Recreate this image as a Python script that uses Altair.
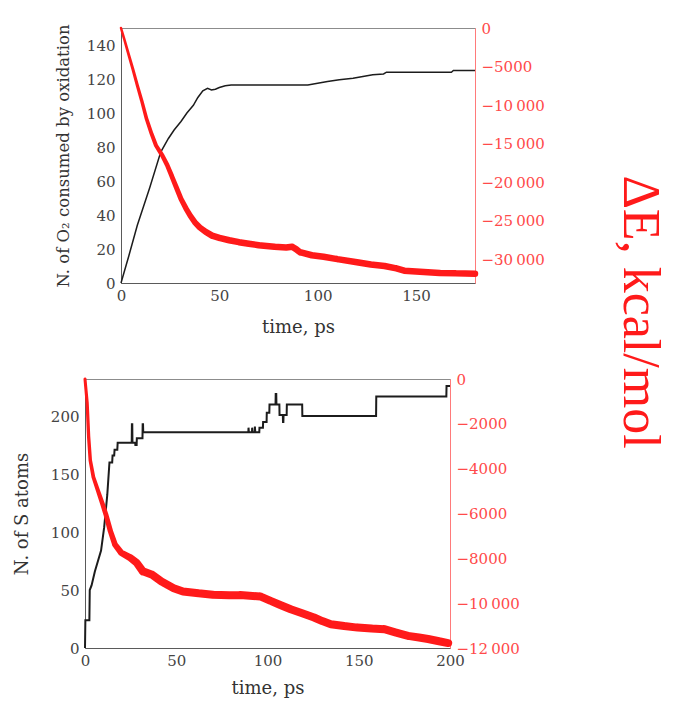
import altair as alt
import pandas as pd

# ---------------- data: top panel (O2 oxidation) ----------------
top_n_t = [0, 4, 8.3, 14.6, 20.2, 24.1, 27, 30.5, 33.5, 36.8, 39, 41.6, 44, 46, 48, 50, 53, 56, 70, 95,
           100, 105, 111, 118, 123, 128, 133.5, 135, 168, 169, 180]
top_n = [0, 16, 34, 56, 77, 85, 90, 95, 100, 104.5, 109, 113, 114.5, 113.5, 114, 115, 116, 116.5, 116.5, 116.5,
         117.5, 118.5, 119.5, 120.5, 121.5, 122.5, 123, 124, 124, 125, 125]

top_e_t = [0, 1.5, 3.5, 6, 8.3, 10.5, 13, 15.5, 17.8, 21, 23.5, 25.7, 28, 30.5, 33, 35.2, 37.5, 40, 43, 46.3,
           50, 55, 60, 65, 70, 78, 84, 87, 89, 91, 97, 103, 110, 120, 127, 134, 140, 144, 150, 156,
           162, 170, 180]
top_e = [0, -1300, -3100, -5300, -7450, -9400, -11800, -13700, -15250, -16550, -17800, -19150, -20600, -22180,
         -23400, -24350, -25200, -25870, -26450, -26950, -27250, -27550, -27800, -28000, -28200, -28400, -28500,
         -28400, -28700, -29100, -29500, -29700, -30000, -30400, -30700, -30900, -31200, -31500, -31600, -31700,
         -31800, -31850, -31900]

# ---------------- data: bottom panel (S atoms) ----------------
bot_n_t = [0, 0.2, 2.4, 2.6, 3.6, 5.4, 7.1, 8.8, 10.5, 12.2, 13.4, 14.9, 15.1, 16.0, 16.2, 17.7, 17.9, 25.6,
           25.7, 25.9, 26.0, 27.5, 27.6, 28.3, 28.4, 31.5, 31.6, 31.8, 31.9, 89.5, 89.6, 89.8, 91.5, 91.6, 91.8,
           93.0, 93.1, 93.3, 95.5, 95.6, 97.5, 97.6, 99.5, 99.6, 101.0, 101.1, 104.4, 104.5, 104.8, 104.9,
           106.5, 106.6, 108.4, 108.5, 108.7, 108.8, 110.5, 110.6, 119.0, 119.1, 159.5, 159.6, 198.0, 198.1, 200.0]
bot_n = [0, 24, 24, 50, 54, 66, 75, 84, 104, 132, 160, 160, 166, 166, 171, 171, 177, 177, 193, 193,
         177, 177, 175, 175, 181, 181, 193, 193, 186, 186, 190, 186, 186, 190, 186, 186, 191, 186, 186, 190,
         190, 195, 195, 203, 203, 210, 210, 219, 219, 210, 210, 201, 201, 195, 195, 201, 201, 210, 210, 200,
         200, 217, 217, 226, 226]

bot_e_t = [0, 0.5, 1.2, 2.0, 2.9, 4.6, 7.1, 9.6, 11.4, 13.9, 16.4, 19.8, 24.9, 28.3, 31.7, 36.8, 41.9, 48.6,
           53.7, 62.2, 70, 79, 85, 96, 101.7, 107, 112.7, 119, 125.5, 130, 134.7, 142, 149.4, 157, 164, 170,
           177, 183, 188, 194, 199]
bot_e = [0, -450, -1080, -2580, -3630, -4380, -4980, -5580, -6030, -6780, -7380, -7750, -7980, -8200, -8580,
         -8730, -9030, -9330, -9480, -9560, -9620, -9650, -9640, -9700, -9900, -10080, -10270, -10450, -10640,
         -10800, -10940, -11020, -11090, -11130, -11160, -11300, -11460, -11530, -11600, -11700, -11780]

# ---------------- ticks / labels ----------------
top_x_ticks = [0, 50, 100, 150]
top_left_ticks = [0, 20, 40, 60, 80, 100, 120, 140]
top_right_ticks = [0, -5000, -10000, -15000, -20000, -25000, -30000]
bot_x_ticks = [0, 50, 100, 150, 200]
bot_left_ticks = [0, 50, 100, 150, 200]
bot_right_ticks = [0, -2000, -4000, -6000, -8000, -10000, -12000]

top_left_title = "N. of O\u2082 consumed by oxidation"
bot_left_title = "N. of S atoms"
x_title = "time, ps"
side_title = "\u0394E, kcal/mol"

FONT = "DejaVu Serif"
BLACK = "#1c1c1c"
RED = "#ff1a1a"
AXIS_GREY = "#5a5a5a"
LABEL_GREY = "#444444"
RED_LABEL = "#ff4a4a"
RED_AXIS = "#ff7a7a"

energy_label = ("abs(datum.value) >= 10000 ? replace(format(datum.value, ','), ',', '\u2009') "
                ": format(datum.value, 'd')")


def panel(n_t, n_v, e_t, e_v, x_dom, x_ticks, n_dom, n_ticks, n_title, e_dom, e_ticks,
          w_expr, width, height, left_title_size, left_title_pad, black_width, x_title_pad):
    black_df = pd.DataFrame({"t": n_t, "n": n_v})
    black_df["i"] = range(len(black_df))
    red_df = pd.DataFrame({"t": e_t, "e": e_v})

    x_enc = alt.X(
        "t:Q",
        scale=alt.Scale(domain=x_dom, nice=False, zero=False),
        axis=alt.Axis(values=x_ticks, title=x_title, labelFlush=False, labelFontSize=15,
                      titleFontSize=18, labelPadding=5, titlePadding=x_title_pad, domainColor=AXIS_GREY,
                      labelColor=LABEL_GREY, titleColor="#333333"),
    )
    black = alt.Chart(black_df).mark_line(color=BLACK, strokeWidth=black_width).encode(
        x=x_enc,
        y=alt.Y("n:Q", scale=alt.Scale(domain=n_dom, nice=False, zero=False),
                axis=alt.Axis(orient="left", values=n_ticks, title=n_title, labelFlush=False,
                              labelFontSize=15, titleFontSize=left_title_size,
                              labelPadding=6, titlePadding=left_title_pad, domainColor=AXIS_GREY,
                              labelColor=LABEL_GREY, titleColor="#333333")),
        order="i:Q",
    )
    red = alt.Chart(red_df).transform_calculate(w=w_expr).mark_trail(color=RED).encode(
        x=x_enc,
        y=alt.Y("e:Q", scale=alt.Scale(domain=e_dom, nice=False, zero=False),
                axis=alt.Axis(orient="right", values=e_ticks, title=None, labelFlush=False,
                              labelExpr=energy_label, labelFontSize=15, labelPadding=6,
                              domainColor=RED_AXIS, labelColor=RED_LABEL)),
        size=alt.Size("w:Q", scale=None, legend=None),
    )
    return alt.layer(black, red).resolve_scale(y="independent").properties(
        width=width, height=height, view=alt.ViewBackground(stroke="#8c8c8c", strokeWidth=1)
    )


def blank(w):
    return alt.Chart(pd.DataFrame({"v": [0]})).mark_point(opacity=0).encode(
        x=alt.value(0), y=alt.value(0)
    ).properties(width=w, height=10, view=alt.ViewBackground(stroke="transparent"))


top = panel(top_n_t, top_n, top_e_t, top_e, [0, 180], top_x_ticks, [0, 150], top_left_ticks,
            top_left_title, [-33100, 0], top_right_ticks,
            "2.5 + 4 * min(datum.t / 45, 1)", 354, 255, 16.5, 15, 1.5, 15)

bottom = panel(bot_n_t, bot_n, bot_e_t, bot_e, [0, 200], bot_x_ticks, [0, 232], bot_left_ticks,
               bot_left_title, [-12000, 0], bot_right_ticks,
               "3 + 5 * min(datum.t / 30, 1)", 365, 269, 18, 19, 2, 11)

top_row = alt.hconcat(blank(41), top, spacing=0)
bottom_row = alt.hconcat(blank(1), bottom, spacing=-4)
panels = alt.vconcat(top_row, bottom_row, spacing=34)

label = alt.Chart(pd.DataFrame({"s": [side_title]})).mark_text(
    angle=90, font="Liberation Serif", fontSize=52, color=RED, align="center", baseline="middle"
).encode(text="s:N", x=alt.value(23), y=alt.value(284)).properties(
    width=46, height=460, view=alt.ViewBackground(stroke="transparent")
)

chart = alt.hconcat(panels, label, spacing=68).properties(
    padding={"left": 0, "top": 12, "right": 0, "bottom": 0},
).configure_view(stroke="transparent").configure_axis(
    labelFont=FONT, titleFont=FONT, titleFontWeight="normal", grid=False, ticks=False, domainWidth=1
)

chart.save("out.html", embed_options={"renderer": "svg", "actions": False})
